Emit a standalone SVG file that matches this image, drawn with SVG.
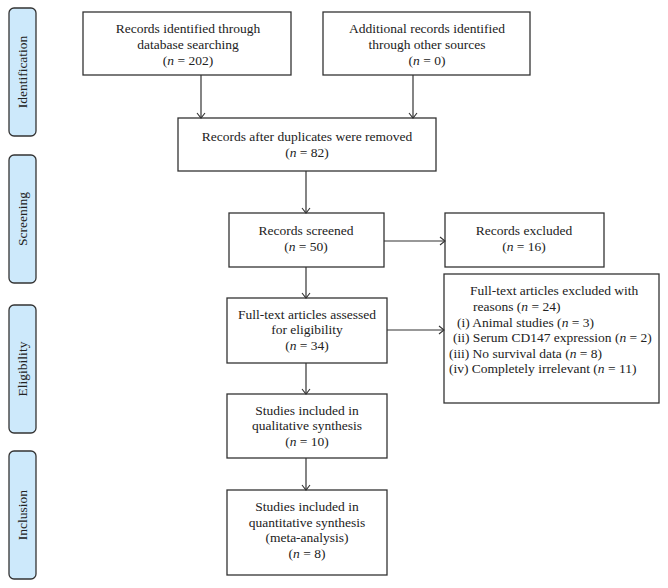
<svg xmlns="http://www.w3.org/2000/svg" width="668" height="588" viewBox="0 0 668 588">
<style>
.box{fill:#fff;stroke:#333;stroke-width:1.3}
.side{fill:#cde9fb;stroke:#333;stroke-width:1.3}
text{font-family:"Liberation Serif","Times New Roman",serif;font-size:13.5px;fill:#222}
.c{text-anchor:middle}
.conn{fill:none;stroke:#333;stroke-width:1.2}
</style>
<defs>
<marker id="ah" markerUnits="userSpaceOnUse" markerWidth="12" markerHeight="12" refX="8" refY="5" orient="auto">
<path d="M3,1 L8,5 L3,9" fill="none" stroke="#333" stroke-width="1.1"/>
</marker>
</defs>

<g id="side-identification"><rect class="side" x="9" y="8" width="27" height="128" rx="5"/><text class="c" transform="translate(27,72) rotate(-90)">Identification</text></g>
<g id="side-screening"><rect class="side" x="9" y="155" width="27" height="128" rx="5"/><text class="c" transform="translate(27,219) rotate(-90)">Screening</text></g>
<g id="side-eligibility"><rect class="side" x="9" y="305" width="27" height="128" rx="5"/><text class="c" transform="translate(27,369) rotate(-90)">Eligibility</text></g>
<g id="side-inclusion"><rect class="side" x="9" y="451" width="27" height="128" rx="5"/><text class="c" transform="translate(27,515) rotate(-90)">Inclusion</text></g>

<g id="n-database"><rect class="box" x="83" y="12" width="208" height="63"/>
<text class="c" x="188" y="33">Records identified through</text>
<text class="c" x="188" y="49">database searching</text>
<text class="c" x="188" y="65">(<tspan font-style="italic">n</tspan> = 202)</text></g>

<g id="n-other"><rect class="box" x="323" y="12" width="207" height="63"/>
<text class="c" x="427" y="33">Additional records identified</text>
<text class="c" x="427" y="49">through other sources</text>
<text class="c" x="427" y="65">(<tspan font-style="italic">n</tspan> = 0)</text></g>

<g id="n-duplicates"><rect class="box" x="178" y="118" width="258" height="53"/>
<text class="c" x="307" y="141">Records after duplicates were removed</text>
<text class="c" x="307" y="157">(<tspan font-style="italic">n</tspan> = 82)</text></g>

<g id="n-screened"><rect class="box" x="229" y="213" width="155" height="54"/>
<text class="c" x="306" y="235">Records screened</text>
<text class="c" x="306" y="251">(<tspan font-style="italic">n</tspan> = 50)</text></g>

<g id="n-excluded"><rect class="box" x="445" y="213" width="159" height="54"/>
<text class="c" x="524" y="235">Records excluded</text>
<text class="c" x="524" y="251">(<tspan font-style="italic">n</tspan> = 16)</text></g>

<g id="n-fulltext"><rect class="box" x="227" y="298" width="160" height="65"/>
<text class="c" x="307" y="319">Full-text articles assessed</text>
<text class="c" x="307" y="334">for eligibility</text>
<text class="c" x="307" y="350">(<tspan font-style="italic">n</tspan> = 34)</text></g>

<g id="n-fulltext-excluded"><rect class="box" x="444" y="274" width="215" height="129"/>
<text x="470" y="295">Full-text articles excluded with</text>
<text x="473" y="311">reasons (<tspan font-style="italic">n</tspan> = 24)</text>
<text x="457" y="327">(i) Animal studies (<tspan font-style="italic">n</tspan> = 3)</text>
<text x="453" y="342">(ii) Serum CD147 expression (<tspan font-style="italic">n</tspan> = 2)</text>
<text x="449" y="358">(iii) No survival data (<tspan font-style="italic">n</tspan> = 8)</text>
<text x="449" y="373">(iv) Completely irrelevant (<tspan font-style="italic">n</tspan> = 11)</text></g>

<g id="n-qualitative"><rect class="box" x="227" y="394" width="160" height="64"/>
<text class="c" x="307" y="415">Studies included in</text>
<text class="c" x="307" y="430">qualitative synthesis</text>
<text class="c" x="307" y="446">(<tspan font-style="italic">n</tspan> = 10)</text></g>

<g id="n-quantitative"><rect class="box" x="227" y="490" width="160" height="85"/>
<text class="c" x="307" y="511">Studies included in</text>
<text class="c" x="307" y="527">quantitative synthesis</text>
<text class="c" x="307" y="542">(meta-analysis)</text>
<text class="c" x="307" y="558">(<tspan font-style="italic">n</tspan> = 8)</text></g>

<g id="connectors">
<line class="conn" x1="201" y1="75" x2="201" y2="118" marker-end="url(#ah)"/>
<line class="conn" x1="413" y1="75" x2="413" y2="118" marker-end="url(#ah)"/>
<line class="conn" x1="306" y1="171" x2="306" y2="213" marker-end="url(#ah)"/>
<line class="conn" x1="384" y1="241" x2="445" y2="241" marker-end="url(#ah)"/>
<line class="conn" x1="306" y1="267" x2="306" y2="298" marker-end="url(#ah)"/>
<line class="conn" x1="387" y1="330" x2="444" y2="330" marker-end="url(#ah)"/>
<line class="conn" x1="306" y1="363" x2="306" y2="394" marker-end="url(#ah)"/>
<line class="conn" x1="306" y1="458" x2="306" y2="490" marker-end="url(#ah)"/>
</g>
</svg>
